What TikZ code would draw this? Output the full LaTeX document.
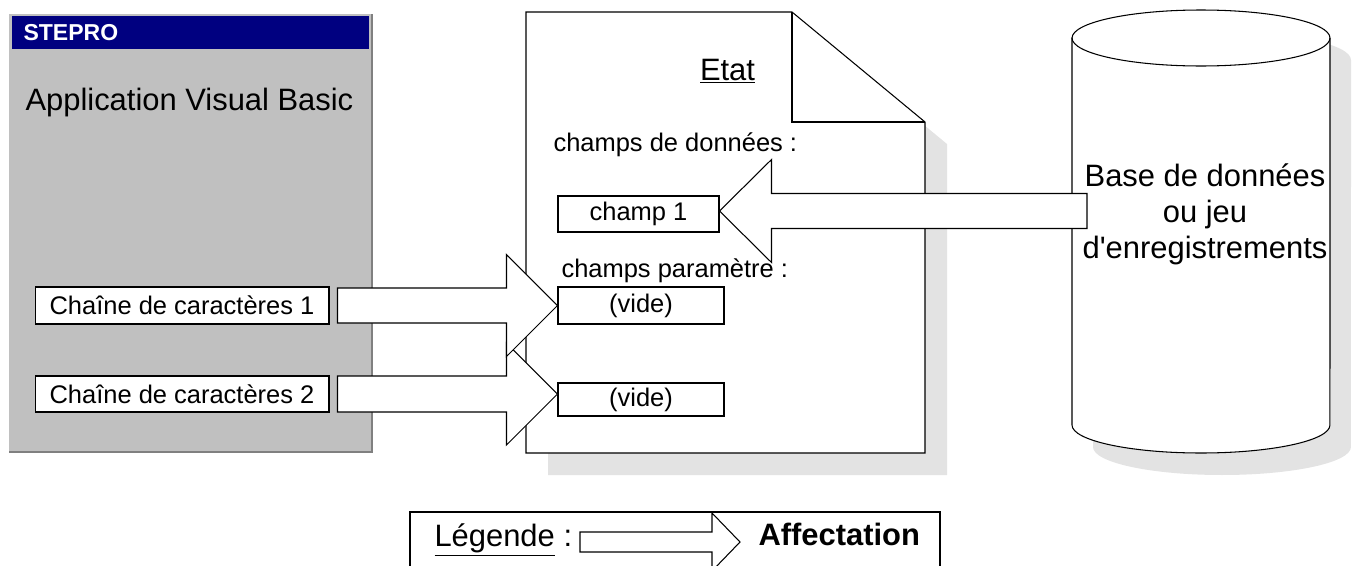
\documentclass[tikz,border=0pt]{standalone}
\usepackage{fontspec}
\setmainfont{Liberation Sans}
\usepackage{tikz}
\usetikzlibrary{
	calc,
	positioning
}
\definecolor{PanelGray}{RGB}{192,192,192}
\definecolor{PanelEdge}{RGB}{128,128,128}
\definecolor{TitleBlue}{RGB}{0,0,128}
\definecolor{ShadowGray}{RGB}{227,227,227}

\begin{document}
\begin{tikzpicture}[x=0.02cm, y=-0.02cm, line width=0.6pt,
		field/.style={draw, fill=white, inner sep=0pt, font=\fontsize{14.5}{17}\selectfont},
		bigtext/.style={inner sep=0pt, font=\fontsize{17.6}{20.5}\selectfont},
		midtext/.style={inner sep=0pt, font=\fontsize{14.5}{17}\selectfont},
		blockarrow/.style={draw, fill=white, line join=miter}]
		\useasboundingbox (0,0) rectangle (1359,565);
		\clip (0,0) rectangle (1359,565);
		
		% fenetre STEPRO
		\fill[PanelGray] (9,14) rectangle (372,452);
		\draw[PanelEdge, line width=1.2pt] (9,452) -- (372,452) -- (372,14);
		\fill[TitleBlue] (12,16) rectangle (369,49);
		\node[anchor=west, inner sep=0pt, text=white, font=\bfseries\fontsize{13.1}{15}\selectfont] (stepro) at (23,32.5) {STEPRO};
		\node[bigtext, anchor=base west] (appli) at (25,110) {Application Visual Basic};
		\node[field, minimum width=5.88cm, minimum height=0.74cm] (ch1) at (182,305.5) {Chaîne de caractères 1};
		\node[field, minimum width=5.88cm, minimum height=0.72cm] (ch2) at (182,394) {Chaîne de caractères 2};
		
		% etat
		\fill[ShadowGray] (548,34) -- (814,34) -- (947,144) -- (947,475) -- (548,475) -- cycle;
		\draw[fill=white] (526,12) -- (792,12) -- (925,122) -- (925,453) -- (526,453) -- cycle;
		\draw (792,12) -- (792,122) -- (925,122);
		\node[bigtext, anchor=base] (etat) at (727.5,80) {\underline{Etat}};
		\node[midtext, anchor=base west] (lbldata) at (553,151) {champs de données :};
		\node[field, minimum width=3.22cm, minimum height=0.72cm] (f1) at (638.5,214) {champ 1};
		\node[midtext, anchor=base west] (lblparam) at (561,277) {champs paramètre :};
		\node[field, minimum width=3.32cm, minimum height=0.74cm] (v1) at (641,305.5) {(vide)};
		\node[field, minimum width=3.32cm, minimum height=0.66cm] (v2) at (641,399.5) {(vide)};
		
		% base de donnees
		\fill[ShadowGray] (1093,60) -- (1093,447) arc[start angle=180, end angle=360, x radius=2.58cm, y radius=0.56cm]
			-- (1351,60) arc[start angle=0, end angle=180, x radius=2.58cm, y radius=0.56cm] -- cycle;
		\draw[fill=white] (1072,38) -- (1072,425) arc[start angle=180, end angle=360, x radius=2.58cm, y radius=0.56cm]
			-- (1330,38) arc[start angle=0, end angle=180, x radius=2.58cm, y radius=0.56cm] -- cycle;
		\draw (1072,38) arc[start angle=180, end angle=360, x radius=2.58cm, y radius=0.56cm];
		\node[bigtext, align=center] (db) at (1205,214) {Base de données\\ou jeu\\d\textquotesingle enregistrements};
		
		% affectations
		\coordinate (t2) at (v2.west |- ch2.east);
		\coordinate (tb) at ($(f1.east)+(0,-3)$);
		\coordinate (dbin) at (1087,211);
		\draw[blockarrow] ($(ch2.east)+(8,-18)$) -- ($(t2)+(-51,-18)$) -- ++(0,-33) -- (t2) -- ++(-51,51) -- ++(0,-33) -- ($(ch2.east)+(8,18)$) -- cycle;
		\draw[blockarrow] ($(ch1.east)+(8,-17.5)$) -- ($(v1.west)+(-51,-17.5)$) -- ++(0,-33.5) -- (v1.west) -- ++(-51,51) -- ++(0,-33.5) -- ($(ch1.east)+(8,17.5)$) -- cycle;
		\draw[blockarrow] ($(dbin)+(0,-17.5)$) -- ($(tb)+(52,-17.5)$) -- ++(0,-34) -- (tb) -- ++(52,51.5) -- ++(0,-34) -- ($(dbin)+(0,17.5)$) -- cycle;
		
		% legende
		\draw (410,575) -- (410,512) -- (940,512) -- (940,575);
		\node[bigtext, anchor=base west] (leg) at (434,546) {\underline{Légende} :};
		\node[anchor=base west, inner sep=0pt, font=\bfseries\fontsize{17.6}{19.1}\selectfont] (affect) at (758,545) {Affectation};
		\coordinate (legs) at (580,542);
		\coordinate (legt) at (740,542);
		\draw[blockarrow] ($(legs)+(0,-10)$) -- ($(legt)+(-28,-10)$) -- ++(0,-19) -- (legt) -- ++(-28,29) -- ++(0,-19) -- ($(legs)+(0,10)$) -- cycle;
	\end{tikzpicture}
\end{document}
